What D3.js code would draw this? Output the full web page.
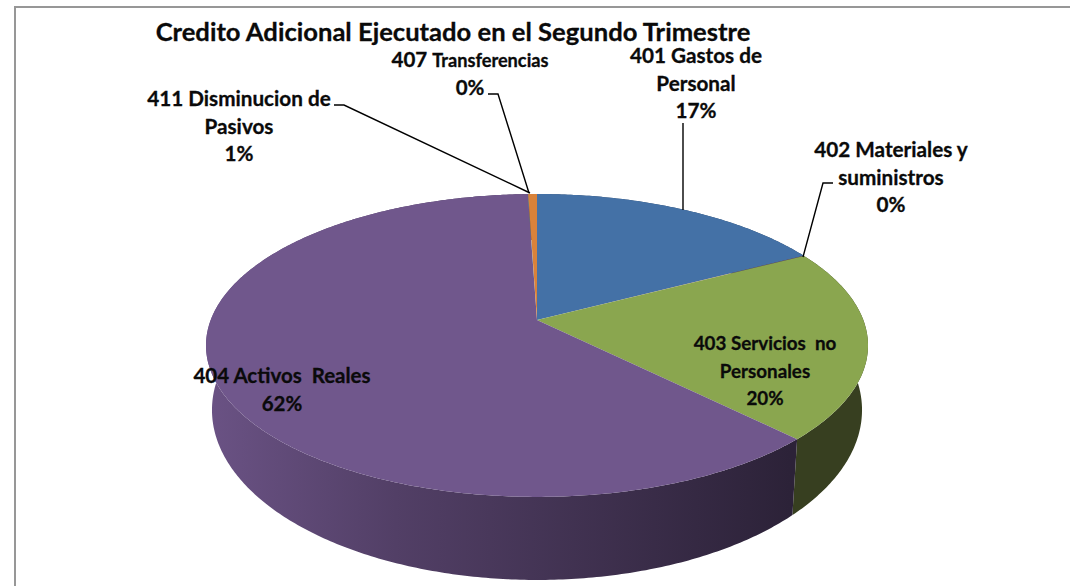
<!DOCTYPE html>
<html lang="es">
<head>
    <meta charset="UTF-8">
    <title>Credito Adicional Ejecutado</title>
    <script src="https://d3js.org/d3.v7.min.js"></script>
    <style>
        html, body { margin: 0; padding: 0; background: #fff; }
        svg { display: block; }
        text { font-family: Lato, "Open Sans", sans-serif; font-weight: 700; fill: #0a0a0a; stroke: #0a0a0a; stroke-width: 0.3; }
        .leader { fill: none; stroke: #000; stroke-width: 1.4; }
    </style>
</head>
<body>
    <svg id="chart" width="1070" height="586"></svg>
    <script>
        // Values (percent of the total)
        const categories = ["401 Gastos de Personal", "402 Materiales y suministros", "403 Servicios no Personales", "404 Activos Reales", "407 Transferencias", "411 Disminucion de Pasivos"];
        const values = [17.2, 0.02, 20.4, 61.86, 0.02, 0.5];
        const topColors = ["#4471a6", "#b0463f", "#8aa64f", "#70578c", "#3f9ab3", "#d9823a"];
        const wallColors = ["#2a4565", "#6b2a26", "#373f20", "url(#wallPurple)", "#265e6d", "#84501f"];

        const svg = d3.select("#chart");

        // Side of the purple slice gets darker from left to right
        const grad = svg.append("defs").append("linearGradient")
            .attr("id", "wallPurple")
            .attr("gradientUnits", "userSpaceOnUse")
            .attr("x1", 210).attr("x2", 790).attr("y1", 0).attr("y2", 0);
        grad.append("stop").attr("offset", "0").attr("stop-color", "#6a5284");
        grad.append("stop").attr("offset", "0.32").attr("stop-color", "#523f66");
        grad.append("stop").attr("offset", "1").attr("stop-color", "#2c2238");

        // Chart frame, only top and left show
        svg.append("path")
            .attr("d", d3.line()([[15, 586], [15, 7], [1070, 7]]))
            .attr("fill", "none").attr("stroke", "#979797").attr("stroke-width", 2);

        // Perspective projection of the unit circle, k is the tilt
        const k = -0.168;
        function project(plane, angle) {
            const u = Math.sin(angle), v = -Math.cos(angle), w = 1 + k * v;
            return [plane.x + plane.a * u / w, plane.y + plane.b * v / w];
        }
        const topPlane = { x: 537, y: 320, a: 326.3, b: 147.2 };
        const basePlane = { x: 537, y: 381.4, a: 320.4, b: 165.2 };

        const pie = d3.pie().sort(null).value(d => d);
        const arcs = pie(values);
        const line = d3.line();

        function sample(arc) {
            const n = Math.max(2, Math.ceil((arc.endAngle - arc.startAngle) * 90));
            return d3.range(n + 1).map(i => arc.startAngle + (arc.endAngle - arc.startAngle) * i / n);
        }

        // Walls first, the back part ends up hidden under the top face
        svg.append("g").selectAll("path")
            .data(arcs)
            .join("path")
            .attr("d", d => {
                const angles = sample(d);
                return line(angles.map(a => project(topPlane, a))
                    .concat(angles.slice().reverse().map(a => project(basePlane, a)))) + "Z";
            })
            .attr("fill", (d, i) => wallColors[i]);

        // Top faces
        svg.append("g").selectAll("path")
            .data(arcs)
            .join("path")
            .attr("d", d => line([[topPlane.x, topPlane.y]].concat(sample(d).map(a => project(topPlane, a)))) + "Z")
            .attr("fill", (d, i) => topColors[i]);

        // Leader lines
        const leaders = [
            [[683, 123], [683, 210]],
            [[833, 183], [823, 183], [803, 257]],
            [[488, 94], [498, 94], [529, 193]],
            [[334, 105], [344, 105], [530, 193]]
        ];
        svg.append("g").selectAll("path")
            .data(leaders)
            .join("path")
            .attr("class", "leader")
            .attr("d", d => line(d));

        // Title
        svg.append("text")
            .attr("x", 453).attr("y", 41)
            .attr("text-anchor", "middle")
            .attr("font-size", 25.6)
            .text("Credito Adicional Ejecutado en el Segundo Trimestre");

        // Label text, one row per line, percent comes from the values
        const pct = i => Math.round(values[i]) + "%";
        const labels = [
            { x: 696, y: 63, size: 20.7, rows: ["401 Gastos de", "Personal", pct(0)] },
            { x: 891, y: 157, size: 20.7, rows: ["402 Materiales y", "suministros", pct(1)] },
            { x: 765, y: 350, size: 18.8, rows: ["403 Servicios  no", "Personales", pct(2)] },
            { x: 282, y: 383, size: 20.5, rows: ["404 Activos  Reales", pct(3)] },
            { x: 470, y: 67, size: 20.5, rows: ["407 ", pct(4)], small: "Transferencias" },
            { x: 239, y: 106, size: 20.7, rows: ["411 Disminucion de", "Pasivos", pct(5)] }
        ];
        const rowHeight = 27.5;
        labels.forEach(l => {
            const text = svg.append("text")
                .attr("text-anchor", "middle")
                .attr("font-size", l.size)
                .attr("xml:space", "preserve");
            l.rows.forEach((row, i) => {
                const rowText = text.append("tspan")
                    .attr("x", l.x)
                    .attr("y", l.y + i * rowHeight)
                    .text(row);
                if (i === 0 && l.small) rowText.append("tspan").attr("font-size", 18.2).text(l.small);
            });
        });
    </script>
</body>
</html>
